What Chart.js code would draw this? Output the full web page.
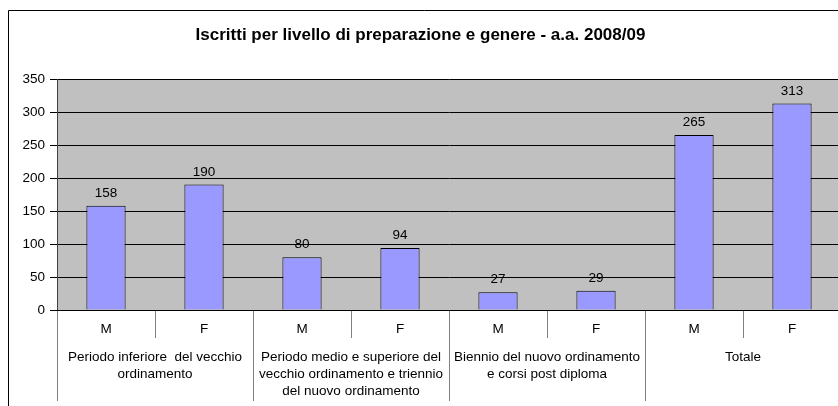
<!DOCTYPE html>
<html>
<head>
<meta charset="utf-8">
<script src="https://cdn.jsdelivr.net/npm/chart.js@4.4.1/dist/chart.umd.min.js"></script>
<style>
  html, body { margin: 0; padding: 0; background: #ffffff; overflow: hidden; }
  #wrap { position: absolute; left: 0; top: 0; width: 841px; height: 406px; }
  canvas { display: block; }
</style>
</head>
<body>
<div id="wrap"><canvas id="c" width="841" height="406"></canvas></div>
<script>
// ---- data ----
const titleText = "Iscritti per livello di preparazione e genere - a.a. 2008/09";
const genderLabels = ["M", "F", "M", "F", "M", "F", "M", "F"];
const groupLabels = [
  ["Periodo inferiore  del vecchio", "ordinamento"],
  ["Periodo medio e superiore del", "vecchio ordinamento e triennio", "del nuovo ordinamento"],
  ["Biennio del nuovo ordinamento", "e corsi post diploma"],
  ["Totale"]
];
const values = [158, 190, 80, 94, 27, 29, 265, 313];
const yTicks = [0, 50, 100, 150, 200, 250, 300, 350];

const FONT = "'Liberation Sans', Arial, sans-serif";
const FS = 13.5;

const plotBg = {
  id: 'plotBg',
  beforeDraw(chart) {
    const { ctx, chartArea: a } = chart;
    ctx.save();
    ctx.fillStyle = '#C0C0C0';
    ctx.fillRect(a.left, a.top, a.right - a.left, a.bottom - a.top);
    // outer chart border (left and top)
    ctx.strokeStyle = '#000000';
    ctx.lineWidth = 1;
    ctx.beginPath();
    ctx.moveTo(8.5, 406);
    ctx.lineTo(8.5, 10.5);
    ctx.lineTo(841, 10.5);
    ctx.stroke();
    ctx.restore();
  }
};

const valueLabels = {
  id: 'valueLabels',
  afterDatasetsDraw(chart) {
    const { ctx } = chart;
    const meta = chart.getDatasetMeta(0);
    ctx.save();
    ctx.fillStyle = '#000000';
    ctx.font = FS + "px " + FONT;
    ctx.textAlign = 'center';
    ctx.textBaseline = 'alphabetic';
    meta.data.forEach((bar, i) => {
      ctx.fillText(String(values[i]), bar.x, bar.y - 8.8);
    });
    ctx.restore();
  }
};

new Chart(document.getElementById('c'), {
  type: 'bar',
  data: {
    labels: genderLabels,
    datasets: [{
      data: values,
      backgroundColor: '#9999FF',
      borderColor: '#000000',
      borderWidth: 1,
      barPercentage: 0.4,
      categoryPercentage: 1.0,
      xAxisID: 'x',
      yAxisID: 'y'
    }]
  },
  options: {
    responsive: false,
    animation: false,
    devicePixelRatio: 1,
    layout: { padding: { left: 0, right: 0, top: 0, bottom: 0 } },
    plugins: {
      legend: { display: false },
      tooltip: { enabled: false },
      title: {
        display: true,
        text: titleText,
        color: '#000000',
        font: { family: FONT, size: 17, weight: 'bold', lineHeight: 1.2 },
        padding: { top: 25, bottom: 33.6 }
      }
    },
    scales: {
      y: {
        min: 0,
        max: 350,
        afterFit(s) { s.width = 57; },
        afterBuildTicks(s) { s.ticks = yTicks.map(v => ({ value: v })); },
        ticks: {
          color: '#000000',
          font: { family: FONT, size: FS },
          padding: 5
        },
        grid: {
          color: '#000000',
          lineWidth: 1,
          tickLength: 7,
          drawTicks: true
        },
        border: { display: true, color: '#404040', width: 1 }
      },
      x: {
        position: 'bottom',
        offset: true,
        afterFit(s) { s.height = 28; },
        ticks: {
          color: '#000000',
          font: { family: FONT, size: FS, lineHeight: 1.2 },
          padding: -17.1,
          maxRotation: 0,
          autoSkip: false
        },
        grid: {
          offset: true,
          drawOnChartArea: false,
          color: '#808080',
          tickLength: 28
        },
        border: { display: true, color: '#000000', width: 1 }
      },
      x2: {
        type: 'category',
        position: 'bottom',
        labels: groupLabels,
        offset: true,
        afterFit(s) { s.height = 68; },
        ticks: {
          color: '#000000',
          font: { family: FONT, size: FS, lineHeight: 1.237 },
          padding: -51.65,
          maxRotation: 0,
          autoSkip: false
        },
        grid: {
          offset: true,
          drawOnChartArea: false,
          color: '#808080',
          tickLength: 63
        },
        border: { display: false }
      }
    }
  },
  plugins: [plotBg, valueLabels]
});
</script>
</body>
</html>
